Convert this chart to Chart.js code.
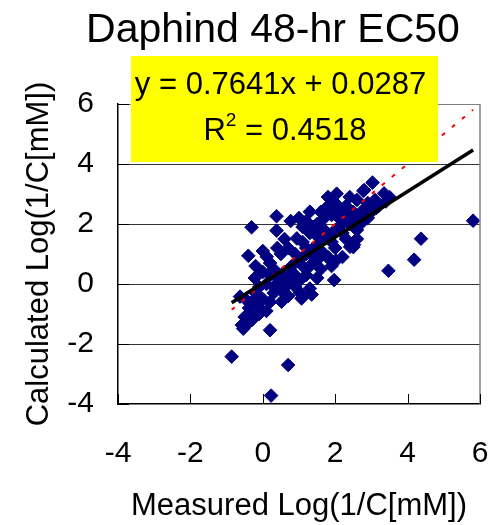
<!DOCTYPE html>
<html><head><meta charset="utf-8">
<script src="https://cdn.jsdelivr.net/npm/chart.js@4"></script>
<style>html,body{margin:0;padding:0;background:#fff}#wrap{width:492px;height:525px}</style>
</head><body><div id="wrap"><canvas id="c" width="492" height="525"></canvas></div>
<script>
const chartTitle = 'Daphind 48-hr EC50';
const xAxisTitle = 'Measured Log(1/C[mM])';
const yAxisTitle = 'Calculated Log(1/C[mM])';
const xTicks = [-4, -2, 0, 2, 4, 6];
const yTicks = [-4, -2, 0, 2, 4, 6];
const slope = 0.7641;
const intercept = 0.0287;
const r2 = '0.4518';
const measured = [
  5.81, 4.37, 4.18, 3.47, 3.03, 2.78, 3.35, 3.50, 3.40, 3.20,
  2.04, 1.30, 0.38, 0.77, -0.31, 0.38, -0.40, 1.97, 0.20, -0.54,
  -0.86, 0.70, 0.23, 2.02, 2.52, 1.30, 1.03, 0.52, -0.45, -0.22,
  -0.38, -0.14, 0.94, 0.11, 2.41, -0.63, -0.58, -0.31, -0.10, 0.43,
  0.20, 0.89, 1.35, 1.07, 1.50, 1.70, 1.90, 2.10, 2.30, 2.50,
  2.70, 2.20, 2.00, 1.80, 1.60, 1.40, 1.20, 1.00, 0.80, 0.60,
  0.40, 1.80, 2.00, 1.60, 2.40, 2.60, 2.30, 2.00, 1.70, 1.50,
  1.30, 1.60, 1.90, 1.20, 1.00, 0.70, 0.50, 0.30, 0.10, 0.00,
  0.20, 0.50, 0.70, 0.90, 1.10, 1.30, 1.10, 0.60, 0.40, 0.00,
  -0.20, 2.80, 3.00, 2.90, 2.60, 2.40, 1.80, 2.10, 1.40, 1.20,
  1.00, -0.50, -0.40, -0.30, -0.20, 0.00, 0.20, -0.10, 0.70, 1.50,
  1.80, 2.20, 2.60, 0.30, 0.90, 1.86, 3.13, 2.80, 1.40, 2.50,
  1.70, 1.50, 2.30, 2.50, 2.20, 1.90, 1.40, 1.10, 0.80, 0.60,
  0.30, -0.30, 0.10, -0.10, 2.70, 2.90, 3.10, 1.60, 1.20
];
const calculated = [
  2.11, 1.51, 0.81, 0.44, 3.38, 3.10, 3.02, 2.90, 2.75, 2.60,
  3.01, 2.41, 2.26, 2.10, 1.89, 1.78, 0.94, 0.13, -1.54, -1.49,
  -2.42, -2.70, -3.72, 0.78, 1.31, -0.15, -0.30, -0.59, -0.54, 0.20,
  -0.80, -0.70, 1.52, 0.91, 1.24, -0.42, -1.37, -1.03, -0.80, -0.14,
  0.30, 0.30, -0.35, -0.48, 2.00, 2.20, 2.30, 2.50, 2.60, 2.40,
  2.20, 2.00, 1.80, 1.60, 1.40, 1.20, 1.00, 0.80, 0.60, 0.40,
  0.20, 2.60, 2.70, 2.40, 2.00, 1.80, 1.50, 1.20, 1.00, 0.80,
  0.60, 0.50, 0.60, 0.30, 0.10, 0.00, -0.20, -0.30, 0.00, 0.40,
  0.70, 1.00, 1.20, 1.00, 1.40, 1.70, 1.90, 1.50, 1.20, 1.10,
  0.60, 2.50, 2.40, 2.70, 2.80, 2.90, 2.90, 2.20, 1.90, 2.10,
  2.20, -1.10, -1.30, -1.20, -0.30, -0.50, -0.60, -0.10, -0.40, 0.20,
  0.90, 0.90, 1.50, 0.50, -0.10, 0.80, 2.53, 3.13, 1.07, 1.23,
  1.80, 1.60, 2.30, 2.10, 1.70, 1.40, 0.90, 0.60, 0.30, 0.10,
  -0.10, -0.60, -0.90, -1.00, 2.00, 2.20, 2.80, 1.10, 1.20
];

const points = measured.map((x, i) => ({ x: x, y: calculated[i] }));
const xMin = Math.min(...measured), xMax = Math.max(...measured);
const fitLine = [xMin, xMax].map(x => ({ x: x, y: slope * x + intercept }));
const oneToOne = [xMin, xMax].map(x => ({ x: x, y: x }));

const FONT = "'Liberation Sans', Arial, sans-serif";

const decor = {
  id: 'decor',
  afterDraw(chart) {
    const ctx = chart.ctx;
    const a = chart.chartArea;
    const xs = chart.scales.x, ys = chart.scales.y;
    ctx.save();
    // right border
    ctx.strokeStyle = '#808080';
    ctx.lineWidth = 1.5;
    ctx.beginPath();
    ctx.moveTo(a.right, a.top);
    ctx.lineTo(a.right, a.bottom);
    ctx.stroke();
    // inward ticks
    ctx.strokeStyle = '#000';
    ctx.lineWidth = 1;
    xTicks.forEach(v => {
      const px = Math.round(xs.getPixelForValue(v)) + 0.5;
      ctx.beginPath();
      ctx.moveTo(px, a.bottom);
      ctx.lineTo(px, a.bottom - 10);
      ctx.stroke();
    });
    yTicks.forEach(v => {
      const py = Math.round(ys.getPixelForValue(v)) + 0.5;
      ctx.beginPath();
      ctx.moveTo(a.left, py);
      ctx.lineTo(a.left + 11, py);
      ctx.stroke();
    });
    // equation box
    const bx = 131, by = 56, bw = 307, bh = 106;
    ctx.fillStyle = '#ffff00';
    ctx.fillRect(bx, by, bw, bh);
    ctx.fillStyle = '#000';
    ctx.textAlign = 'center';
    ctx.textBaseline = 'alphabetic';
    ctx.font = '31px ' + FONT;
    ctx.fillText('y = ' + slope.toFixed(4) + 'x + ' + intercept.toFixed(4), bx + bw / 2 - 4, 94);
    // R^2 line
    const rMain = 'R';
    const rRest = ' = ' + r2;
    const wR = ctx.measureText(rMain).width;
    ctx.font = '19px ' + FONT;
    const wSup = ctx.measureText('2').width;
    ctx.font = '31px ' + FONT;
    const wRest = ctx.measureText(rRest).width;
    const total = wR + wSup + wRest;
    let sx = 285 - total / 2;
    ctx.textAlign = 'left';
    ctx.fillText(rMain, sx, 140);
    ctx.font = '19px ' + FONT;
    ctx.fillText('2', sx + wR, 126);
    ctx.font = '31px ' + FONT;
    ctx.fillText(rRest, sx + wR + wSup, 140);
    // title
    ctx.textAlign = 'center';
    ctx.font = '41px ' + FONT;
    ctx.fillText(chartTitle, 273, 42);
    ctx.restore();
  }
};

new Chart(document.getElementById('c'), {
  type: 'scatter',
  data: {
    datasets: [
      {
        type: 'line', label: 'fit', data: fitLine, borderColor: '#000', borderWidth: 3.5,
        pointRadius: 0, fill: false, order: 0
      },
      {
        type: 'line', label: '1:1', data: oneToOne, borderColor: '#ff0000', borderWidth: 2,
        borderDash: [4, 9], pointRadius: 0, fill: false, order: 1
      },
      {
        label: 'data', data: points, pointStyle: 'rectRot', pointRadius: 6.8,
        backgroundColor: '#000080', borderColor: '#000080', borderWidth: 1, order: 2
      }
    ]
  },
  options: {
    responsive: false,
    animation: false,
    devicePixelRatio: 1,
    layout: { padding: { top: 104, right: 12, left: 0, bottom: 0 } },
    plugins: { legend: { display: false }, tooltip: { enabled: false }, title: { display: false } },
    scales: {
      x: {
        type: 'linear', min: -4, max: 6,
        afterBuildTicks: s => { s.ticks = xTicks.map(v => ({ value: v })); },
        afterFit: s => { s.height = 121; s.paddingLeft = 0; s.paddingRight = 0; },
        grid: { display: false, drawTicks: false },
        border: { display: true, color: '#000', width: 1.5 },
        ticks: { padding: 32, color: '#000', font: { family: FONT, size: 30 } },
        title: { display: true, text: xAxisTitle, color: '#000', padding: { top: 0, bottom: 0 }, font: { family: FONT, size: 31 } }
      },
      y: {
        type: 'linear', min: -4, max: 6,
        afterBuildTicks: s => { s.ticks = yTicks.map(v => ({ value: v })); },
        afterFit: s => { s.width = 118; s.paddingTop = 0; s.paddingBottom = 0; },
        grid: {
          drawTicks: false, lineWidth: 1,
          color: c => (c.tick && c.tick.value === 6) ? '#808080' : (c.tick && c.tick.value === -4 ? 'rgba(0,0,0,0)' : '#333')
        },
        border: { display: true, color: '#000', width: 1.5 },
        ticks: { padding: 24, color: '#000', font: { family: FONT, size: 30 } },
        title: { display: true, text: yAxisTitle, color: '#000', padding: { top: 21, bottom: 0 }, font: { family: FONT, size: 31 } }
      }
    }
  },
  plugins: [decor]
});
</script>
</body></html>
